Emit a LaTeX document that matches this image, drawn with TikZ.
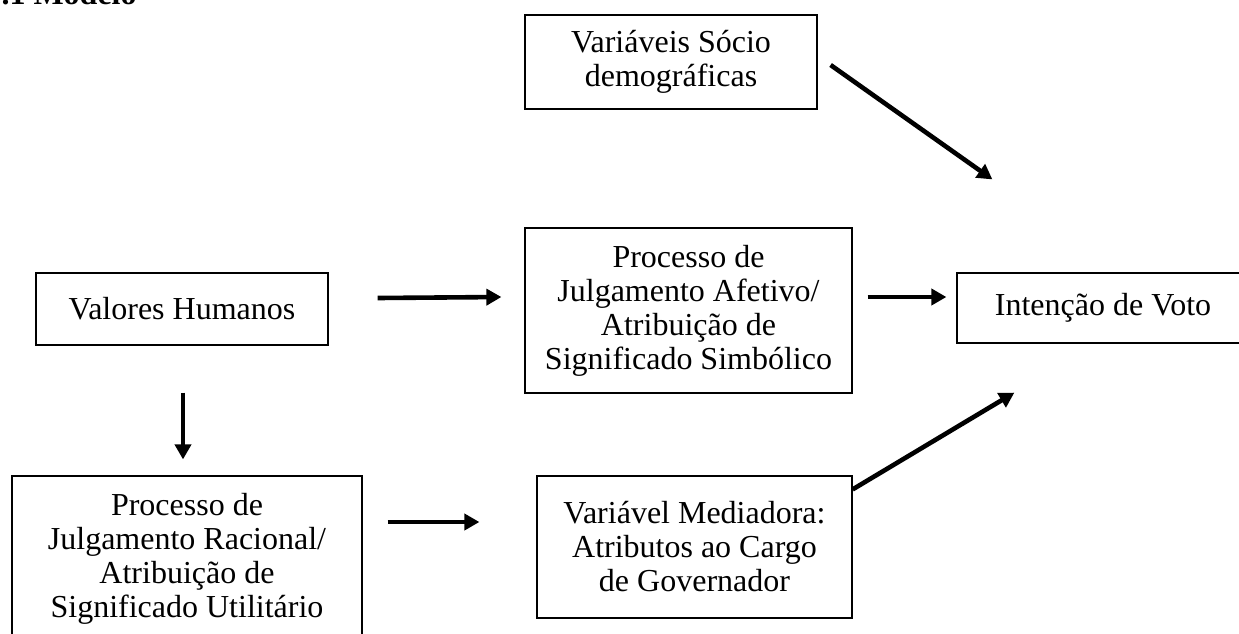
\documentclass[tikz,border=0pt]{standalone}
\usepackage{fontspec}
\setmainfont{Liberation Serif}
\usetikzlibrary{arrows.meta}

\tikzset{
caixa/.style={draw,line width=1.2pt,inner sep=0pt,align=center,
  font=\fontsize{32}{34}\selectfont},
seta/.style={line width=4.6pt,-{Triangle[length=15pt,width=16pt]}}
}

\begin{document}
\begin{tikzpicture}[x=1pt,y=-1pt]
\useasboundingbox (0,0) rectangle (1239,633);
\node[anchor=base west,font=\fontsize{32}{34}\selectfont\bfseries] (titulo) at (-2,4) {.1 Modelo};
\node[caixa,minimum width=292pt,minimum height=94pt] (socio) at (671,62) {Variáveis Sócio\\demográficas};
\node[caixa,minimum width=292pt,minimum height=72pt] (valores) at (182,309) {Valores Humanos};
\node[caixa,minimum width=327pt,minimum height=165pt] (afetivo) at (688.5,310.5) {Processo de\\Julgamento Afetivo/\\Atribuição de\\Significado Simbólico};
\node[caixa,minimum width=292pt,minimum height=70pt] (intencao) at (1103,308) {Intenção de Voto};
\node[caixa,minimum width=350pt,minimum height=165pt] (racional) at (187,558.5) {Processo de\\Julgamento Racional/\\Atribuição de\\Significado Utilitário};
\node[caixa,minimum width=315pt,minimum height=142pt] (mediadora) at (694.5,547) {Variável Mediadora:\\Atributos ao Cargo\\de Governador};

\draw[seta] ([xshift=13pt,yshift=-3pt]socio.east) -- ([xshift=36pt,yshift=93pt]intencao.north west);
\draw[seta] ([xshift=49pt,yshift=11pt]valores.east) -- ([xshift=-23pt,yshift=13.5pt]afetivo.west);
\draw[seta] ([xshift=15pt,yshift=13.5pt]afetivo.east) -- ([xshift=-10pt,yshift=11pt]intencao.west);
\draw[seta] ([xshift=1pt,yshift=-47pt]valores.south) -- ([xshift=-4pt,yshift=16pt]racional.north);
\draw[seta] ([xshift=25pt,yshift=36.5pt]racional.east) -- ([xshift=-57pt,yshift=25pt]mediadora.west);
\draw[seta] ([yshift=-14pt]mediadora.north east) -- ([xshift=58pt,yshift=-49pt]intencao.south west);
\end{tikzpicture}
\end{document}
